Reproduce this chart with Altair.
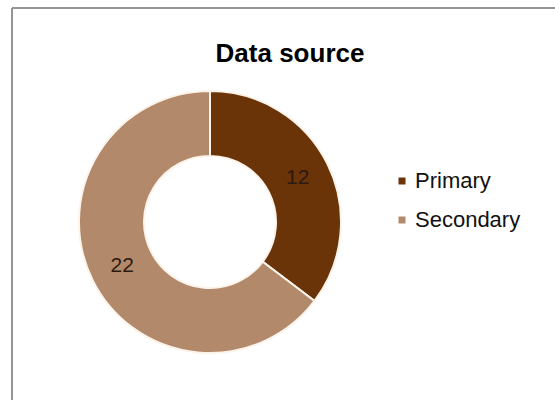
import altair as alt
import pandas as pd

categories = ["Primary", "Secondary"]
counts = [12, 22]
order_idx = [0, 1]
colors = ["#6B3308", "#B3896B"]
title_text = "Data source"

df = pd.DataFrame({"Category": categories, "Count": counts, "idx": order_idx})

base = alt.Chart(df)

arc = base.mark_arc(innerRadius=66, outerRadius=131, stroke="#FCF4EA", strokeWidth=2).encode(
    theta=alt.Theta("Count:Q", stack=True),
    order=alt.Order("idx:Q"),
    color=alt.Color(
        "Category:N",
        scale=alt.Scale(domain=categories, range=colors),
        legend=alt.Legend(
            title=None,
            orient="none",
            legendX=391,
            legendY=100,
            symbolType="square",
            symbolSize=49,
            symbolStrokeWidth=0,
            labelFont="Liberation Sans",
            labelFontSize=22,
            labelColor="#111111",
            labelOffset=2,
            rowPadding=17,
            padding=0,
        ),
    ),
    x=alt.value(210),
    y=alt.value(152),
)

labels = base.mark_text(radius=98, font="Liberation Sans", fontSize=21, color="#2a1a10").encode(
    theta=alt.Theta("Count:Q", stack=True),
    order=alt.Order("idx:Q"),
    detail="Category:N",
    text="Count:Q",
    x=alt.value(210),
    y=alt.value(152),
)

title_mark = alt.Chart(alt.Data(values=[{"t": title_text}])).mark_text(
    font="Liberation Sans", fontSize=26, fontWeight="bold", color="#000000",
    align="center", baseline="alphabetic",
).encode(text="t:N", x=alt.value(290), y=alt.value(-8))

frame_data = alt.Data(values=[{"a": 1}])
top_rule = alt.Chart(frame_data).mark_rule(color="#959595", strokeWidth=2).encode(
    x=alt.value(12), x2=alt.value(555), y=alt.value(-62)
)
left_rule = alt.Chart(frame_data).mark_rule(color="#959595", strokeWidth=2).encode(
    x=alt.value(12), y=alt.value(-62), y2=alt.value(330)
)

chart = alt.layer(top_rule, left_rule, title_mark, arc, labels).properties(
    width=555,
    height=330,
    background="white",
    padding={"left": 0, "top": 70, "right": 0, "bottom": 0},
    autosize=alt.AutoSizeParams(type="none"),
).configure_view(stroke="transparent", strokeWidth=0)

chart.save("out.html", embed_options={"renderer": "svg", "actions": False})
